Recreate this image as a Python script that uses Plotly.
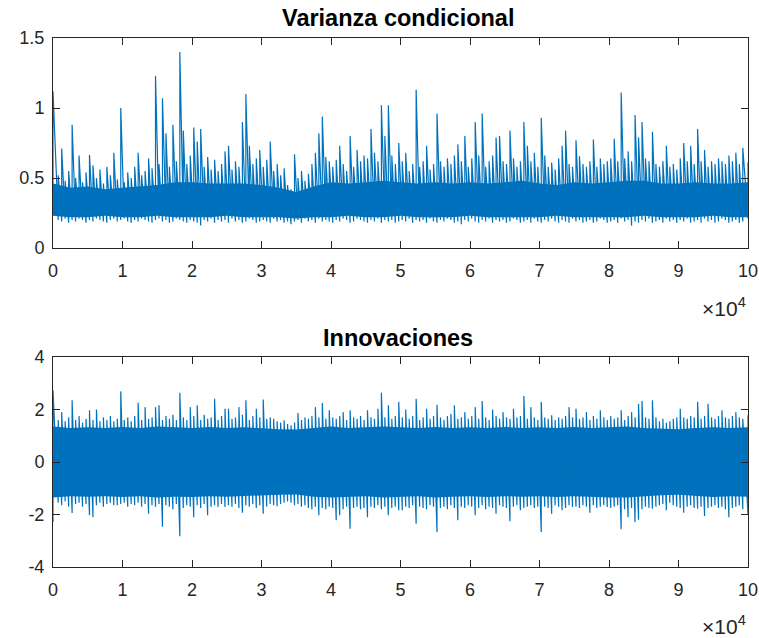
import numpy as np
import plotly.graph_objects as go

# Sample axis: 100000 observations, summarised as 200 columns of 500 samples
N_SAMPLES = 100000
COL_WIDTH = 500

# Per-column maximum / minimum of the conditional variance
var_max = [
    1.12, 0.52, 0.71, 0.48, 0.55, 0.88, 0.50, 0.66, 0.47, 0.54, 0.665, 0.59, 0.50, 0.56, 0.46, 0.58, 0.52, 0.68, 0.49, 1.00,
    0.47, 0.54, 0.50, 0.58, 0.68, 0.52, 0.55, 0.64, 0.57, 1.23, 0.60, 1.07, 0.82, 0.58, 0.88, 0.62, 1.40, 0.84, 0.60, 0.66,
    0.86, 0.76, 0.85, 0.58, 0.65, 0.56, 0.63, 0.55, 0.60, 0.69, 0.73, 0.56, 0.62, 0.58, 0.90, 1.10, 0.73, 0.60, 0.64, 0.70,
    0.58, 0.63, 0.76, 0.55, 0.60, 0.52, 0.57, 0.45, 0.42, 0.67, 0.50, 0.55, 0.48, 0.53, 0.60, 0.68, 0.82, 0.94, 0.65, 0.62,
    0.58, 0.63, 0.73, 0.60, 0.55, 0.80, 0.58, 0.70, 0.62, 0.66, 0.64, 0.85, 0.68, 0.62, 1.02, 0.80, 1.02, 0.66, 0.60, 0.75,
    0.62, 0.68, 0.55, 0.60, 1.13, 0.58, 0.62, 0.73, 0.56, 0.60, 0.96, 0.62, 0.58, 0.64, 0.60, 0.66, 0.74, 0.62, 0.80, 0.58,
    0.64, 0.90, 0.66, 0.96, 0.58, 0.62, 0.66, 0.79, 0.80, 0.62, 0.60, 0.84, 0.64, 0.58, 0.62, 0.90, 0.73, 0.62, 0.68, 0.58,
    0.93, 0.66, 0.58, 0.61, 0.56, 0.64, 0.73, 0.84, 0.60, 0.58, 0.77, 0.655, 0.60, 0.58, 0.62, 0.775, 0.58, 0.64, 0.60, 0.62,
    0.64, 0.78, 0.62, 1.11, 0.64, 0.69, 0.62, 0.95, 0.79, 0.90, 0.64, 0.62, 0.83, 0.60, 0.58, 0.62, 0.73, 0.58, 0.60, 0.56,
    0.64, 0.75, 0.62, 0.73, 0.60, 0.85, 0.62, 0.70, 0.58, 0.62, 0.60, 0.64, 0.62, 0.60, 0.66, 0.62, 0.68, 0.60, 0.715, 0.61,
]
var_min = [
    0.30, 0.20, 0.19, 0.21, 0.18, 0.20, 0.19, 0.21, 0.20, 0.18, 0.20, 0.19, 0.21, 0.20, 0.19, 0.18, 0.20, 0.21, 0.19, 0.20,
    0.21, 0.19, 0.18, 0.20, 0.19, 0.21, 0.20, 0.19, 0.18, 0.20, 0.21, 0.19, 0.20, 0.18, 0.19, 0.21, 0.20, 0.19, 0.18, 0.20,
    0.19, 0.18, 0.16, 0.20, 0.19, 0.21, 0.18, 0.20, 0.19, 0.20, 0.18, 0.21, 0.19, 0.20, 0.18, 0.19, 0.21, 0.20, 0.18, 0.19,
    0.20, 0.19, 0.18, 0.21, 0.19, 0.20, 0.18, 0.19, 0.17, 0.19, 0.20, 0.18, 0.21, 0.19, 0.20, 0.18, 0.21, 0.19, 0.20, 0.19,
    0.18, 0.20, 0.19, 0.21, 0.20, 0.18, 0.19, 0.21, 0.20, 0.19, 0.18, 0.20, 0.19, 0.21, 0.18, 0.20, 0.19, 0.20, 0.18, 0.19,
    0.20, 0.19, 0.21, 0.18, 0.20, 0.19, 0.20, 0.18, 0.21, 0.19, 0.18, 0.20, 0.19, 0.21, 0.20, 0.18, 0.19, 0.17, 0.20, 0.19,
    0.21, 0.19, 0.18, 0.20, 0.19, 0.21, 0.18, 0.20, 0.19, 0.20, 0.18, 0.19, 0.21, 0.20, 0.18, 0.19, 0.20, 0.18, 0.21, 0.19,
    0.18, 0.20, 0.19, 0.21, 0.19, 0.18, 0.20, 0.19, 0.18, 0.21, 0.19, 0.20, 0.18, 0.19, 0.20, 0.18, 0.19, 0.21, 0.20, 0.18,
    0.19, 0.20, 0.18, 0.21, 0.19, 0.20, 0.16, 0.19, 0.18, 0.20, 0.19, 0.21, 0.18, 0.19, 0.20, 0.18, 0.21, 0.19, 0.20, 0.18,
    0.20, 0.19, 0.21, 0.18, 0.19, 0.20, 0.18, 0.21, 0.19, 0.20, 0.18, 0.19, 0.21, 0.20, 0.18, 0.19, 0.20, 0.18, 0.19, 0.21,
]

# Per-column maximum / minimum of the innovations
innov_max = [
    2.73, 1.60, 1.90, 1.55, 1.70, 2.35, 1.60, 1.75, 1.50, 1.65, 1.97, 1.60, 2.00, 1.55, 1.70, 1.60, 1.75, 1.55, 1.65, 2.69,
    1.60, 1.70, 1.55, 1.75, 2.26, 1.60, 2.09, 1.65, 1.70, 2.09, 2.16, 1.60, 1.75, 1.65, 1.80, 1.60, 2.64, 1.70, 1.60, 2.09,
    1.75, 2.16, 1.60, 1.80, 1.65, 1.70, 2.41, 1.60, 1.75, 2.03, 2.03, 1.65, 1.70, 2.09, 1.80, 2.35, 1.60, 1.75, 2.03, 1.70,
    2.38, 1.65, 1.70, 1.65, 1.55, 1.50, 1.59, 1.45, 1.40, 1.50, 1.87, 1.60, 1.70, 1.65, 1.75, 2.09, 1.70, 2.25, 1.65, 1.97,
    1.70, 1.65, 1.75, 1.90, 1.60, 1.97, 1.70, 1.65, 1.75, 1.60, 1.97, 1.70, 1.65, 2.03, 2.64, 1.70, 2.16, 1.65, 1.75, 2.29,
    1.70, 2.00, 1.65, 1.75, 2.41, 1.60, 1.70, 2.03, 1.65, 1.75, 2.18, 1.70, 1.60, 1.75, 1.84, 2.16, 1.65, 1.70, 1.90, 1.65,
    1.75, 2.09, 1.65, 2.32, 1.70, 1.60, 2.00, 1.75, 1.65, 1.90, 1.70, 1.65, 2.03, 1.70, 1.75, 2.51, 1.65, 2.09, 1.70, 1.60,
    2.29, 1.70, 1.65, 1.78, 1.60, 1.70, 1.65, 1.75, 2.09, 1.70, 2.03, 1.65, 1.70, 1.90, 1.60, 1.75, 1.65, 1.97, 1.70, 1.60,
    1.75, 1.65, 1.70, 1.97, 1.60, 1.75, 1.90, 1.70, 2.22, 2.32, 1.70, 1.65, 2.35, 1.70, 1.55, 1.65, 1.50, 1.55, 1.65, 1.70,
    2.03, 1.70, 1.65, 1.75, 1.70, 2.29, 1.65, 1.75, 2.22, 1.70, 1.65, 1.75, 1.97, 1.70, 1.65, 1.75, 1.90, 1.70, 1.65, 1.78,
]
innov_min = [
    -2.29, -1.55, -1.65, -1.50, -1.70, -1.94, -1.60, -1.55, -1.70, -1.60, -2.03, -2.10, -1.65, -1.55, -1.70, -1.60, -1.55, -1.65, -1.65, -1.60,
    -1.55, -1.70, -1.60, -1.65, -1.55, -1.70, -1.60, -1.97, -1.65, -1.70, -1.60, -2.47, -1.65, -1.70, -1.80, -1.60, -2.83, -1.75, -1.65, -1.70,
    -2.10, -1.65, -1.75, -1.60, -2.03, -1.70, -1.65, -1.71, -1.60, -1.71, -1.65, -1.70, -1.60, -1.75, -1.93, -1.65, -1.70, -1.60, -1.75, -1.65,
    -1.97, -1.70, -1.60, -1.65, -1.69, -1.60, -1.55, -1.50, -1.55, -1.65, -1.60, -1.70, -1.65, -1.75, -1.80, -1.70, -2.03, -1.75, -1.80, -1.70,
    -1.75, -2.22, -2.03, -1.80, -1.70, -2.54, -1.75, -1.70, -1.80, -1.75, -2.10, -1.70, -1.75, -1.65, -1.80, -1.70, -2.03, -1.75, -1.70, -1.84,
    -1.84, -1.70, -1.75, -1.65, -2.35, -1.70, -1.75, -1.80, -1.65, -1.70, -2.67, -1.75, -1.70, -1.80, -1.65, -1.75, -2.22, -1.70, -1.75, -1.65,
    -1.70, -2.03, -1.75, -1.65, -1.80, -1.70, -1.75, -1.97, -1.65, -1.70, -1.75, -2.26, -1.70, -1.65, -1.84, -1.75, -1.70, -1.65, -1.75, -1.70,
    -2.67, -1.70, -1.75, -1.97, -1.65, -1.70, -1.84, -1.75, -1.65, -1.71, -1.70, -1.75, -1.65, -1.70, -1.93, -1.65, -1.75, -1.70, -1.65, -1.71,
    -1.75, -1.70, -1.65, -2.56, -1.80, -2.10, -1.75, -2.29, -2.20, -1.80, -1.70, -1.75, -1.78, -1.70, -1.65, -1.60, -1.84, -1.55, -1.65, -1.70,
    -1.75, -1.93, -1.70, -1.65, -1.75, -1.78, -1.70, -2.06, -1.75, -1.70, -1.65, -1.75, -1.70, -1.80, -2.10, -1.75, -1.70, -1.65, -1.80, -2.00,
]

# Dense central band (every 2500 samples) where the trace is fully packed
core_t = [0, 2500, 5000, 7500, 10000, 12500, 15000, 17500, 20000, 22500, 25000,
          27500, 30000, 32500, 35000, 37500, 40000, 42500, 45000, 47500, 50000,
          52500, 55000, 57500, 60000, 62500, 65000, 67500, 70000, 72500, 75000,
          77500, 80000, 82500, 85000, 87500, 90000, 92500, 95000, 97500, 100000]
var_core_hi = [0.46, 0.43, 0.44, 0.42, 0.43, 0.44, 0.45, 0.47, 0.47, 0.46, 0.46,
               0.46, 0.45, 0.43, 0.40, 0.44, 0.47, 0.46, 0.47, 0.48, 0.47,
               0.46, 0.47, 0.46, 0.47, 0.46, 0.47, 0.48, 0.46, 0.45, 0.47,
               0.46, 0.47, 0.48, 0.48, 0.46, 0.46, 0.47, 0.46, 0.46, 0.47]
var_core_lo = [0.23, 0.22, 0.22, 0.23, 0.22, 0.22, 0.23, 0.22, 0.22, 0.22, 0.23,
               0.22, 0.22, 0.22, 0.21, 0.22, 0.22, 0.23, 0.22, 0.22, 0.23,
               0.22, 0.22, 0.22, 0.23, 0.22, 0.22, 0.22, 0.22, 0.23, 0.22,
               0.22, 0.22, 0.22, 0.23, 0.22, 0.22, 0.22, 0.23, 0.22, 0.22]
innov_core_hi = [1.35, 1.30, 1.32, 1.30, 1.33, 1.30, 1.35, 1.32, 1.30, 1.33, 1.30,
                 1.32, 1.28, 1.25, 1.24, 1.30, 1.35, 1.30, 1.33, 1.35, 1.32,
                 1.30, 1.33, 1.30, 1.32, 1.30, 1.33, 1.30, 1.32, 1.30, 1.33,
                 1.30, 1.32, 1.35, 1.30, 1.27, 1.25, 1.30, 1.32, 1.30, 1.32]
innov_core_lo = [-1.35, -1.30, -1.32, -1.30, -1.33, -1.30, -1.35, -1.32, -1.33, -1.30, -1.32,
                 -1.30, -1.28, -1.25, -1.24, -1.32, -1.35, -1.33, -1.30, -1.35, -1.32,
                 -1.30, -1.35, -1.32, -1.30, -1.33, -1.30, -1.32, -1.30, -1.33, -1.30,
                 -1.32, -1.35, -1.35, -1.30, -1.27, -1.25, -1.30, -1.33, -1.30, -1.32]

x_tick_vals = [0, 10000, 20000, 30000, 40000, 50000, 60000, 70000, 80000, 90000, 100000]
x_tick_text = ["0", "1", "2", "3", "4", "5", "6", "7", "8", "9", "10"]

BLUE = "#0072BD"
AX = "#262626"
FONT = "Liberation Sans, Arial, Helvetica, sans-serif"


def column_trace(lo, hi, xa, ya):
    """Vertical stroke through each column's minimum and maximum."""
    cols = np.arange(len(hi)) * COL_WIDTH + COL_WIDTH / 2
    cols[0] = 0
    cols[-1] = N_SAMPLES
    xs, ys = [], []
    for i, c in enumerate(cols):
        xs += [c, c]
        ys += [lo[i], hi[i]]
    return go.Scatter(x=xs, y=ys, mode="lines", line=dict(color=BLUE, width=1.2),
                      xaxis=xa, yaxis=ya, showlegend=False, hoverinfo="skip")


def core_trace(lo, hi, xa, ya):
    xs = list(core_t) + list(core_t[::-1])
    ys = list(hi) + list(lo[::-1])
    return go.Scatter(x=xs, y=ys, mode="lines", fill="toself", fillcolor=BLUE,
                      line=dict(color=BLUE, width=0), xaxis=xa, yaxis=ya,
                      showlegend=False, hoverinfo="skip")


fig = go.Figure()
fig.add_trace(core_trace(var_core_lo, var_core_hi, "x", "y"))
fig.add_trace(column_trace(var_min, var_max, "x", "y"))
fig.add_trace(core_trace(innov_core_lo, innov_core_hi, "x2", "y2"))
fig.add_trace(column_trace(innov_min, innov_max, "x2", "y2"))

W, H = 759, 638
ML, MR, MT, MB = 52.7, 11.3, 37.7, 71.3
PH = H - MT - MB
top_dom = [1 - 210 / PH, 1]
bot_dom = [0, 210 / PH]

xcommon = dict(range=[0, N_SAMPLES], tickvals=x_tick_vals, ticktext=x_tick_text,
               ticks="inside", ticklen=7, tickwidth=1, tickcolor=AX,
               showline=True, linecolor=AX, linewidth=1, mirror="allticks",
               showgrid=False, zeroline=False, automargin=False, ticklabelstandoff=6,
               tickfont=dict(family=FONT, size=18, color=AX))
ycommon = dict(ticks="inside", ticklen=7, tickwidth=1, tickcolor=AX,
               showline=True, linecolor=AX, linewidth=1, mirror="allticks",
               showgrid=False, zeroline=False, automargin=False, ticklabelstandoff=4,
               tickfont=dict(family=FONT, size=18, color=AX))


def paper_y(px):
    return (H - MB - px) / PH


def paper_x(px):
    return (px - ML) / (W - ML - MR)


fig.update_layout(
    width=W, height=H,
    margin=dict(l=ML, r=MR, t=MT, b=MB, autoexpand=False),
    paper_bgcolor="white", plot_bgcolor="white",
    xaxis=dict(**xcommon, anchor="y"),
    yaxis=dict(**ycommon, domain=top_dom, range=[0, 1.5],
               tickvals=[0, 0.5, 1, 1.5], ticktext=["0", "0.5", "1", "1.5"], anchor="x"),
    xaxis2=dict(**xcommon, anchor="y2"),
    yaxis2=dict(**ycommon, domain=bot_dom, range=[-4, 4],
                tickvals=[-4, -2, 0, 2, 4], ticktext=["-4", "-2", "0", "2", "4"], anchor="x2"),
    annotations=[
        dict(text="<b>Varianza condicional</b>", x=paper_x(398), y=paper_y(18), xref="paper", yref="paper",
             showarrow=False, xanchor="center", yanchor="middle",
             font=dict(family=FONT, size=23.5, color="black")),
        dict(text="<b>Innovaciones</b>", x=paper_x(398), y=paper_y(338), xref="paper", yref="paper",
             showarrow=False, xanchor="center", yanchor="middle",
             font=dict(family=FONT, size=23.5, color="black")),
        dict(text="×10<sup>4</sup>", x=paper_x(748), y=paper_y(307), xref="paper", yref="paper",
             showarrow=False, xanchor="right", yanchor="middle",
             font=dict(family=FONT, size=21, color=AX)),
        dict(text="×10<sup>4</sup>", x=paper_x(748), y=paper_y(625), xref="paper", yref="paper",
             showarrow=False, xanchor="right", yanchor="middle",
             font=dict(family=FONT, size=21, color=AX)),
    ],
)

fig.write_html("out.html")
